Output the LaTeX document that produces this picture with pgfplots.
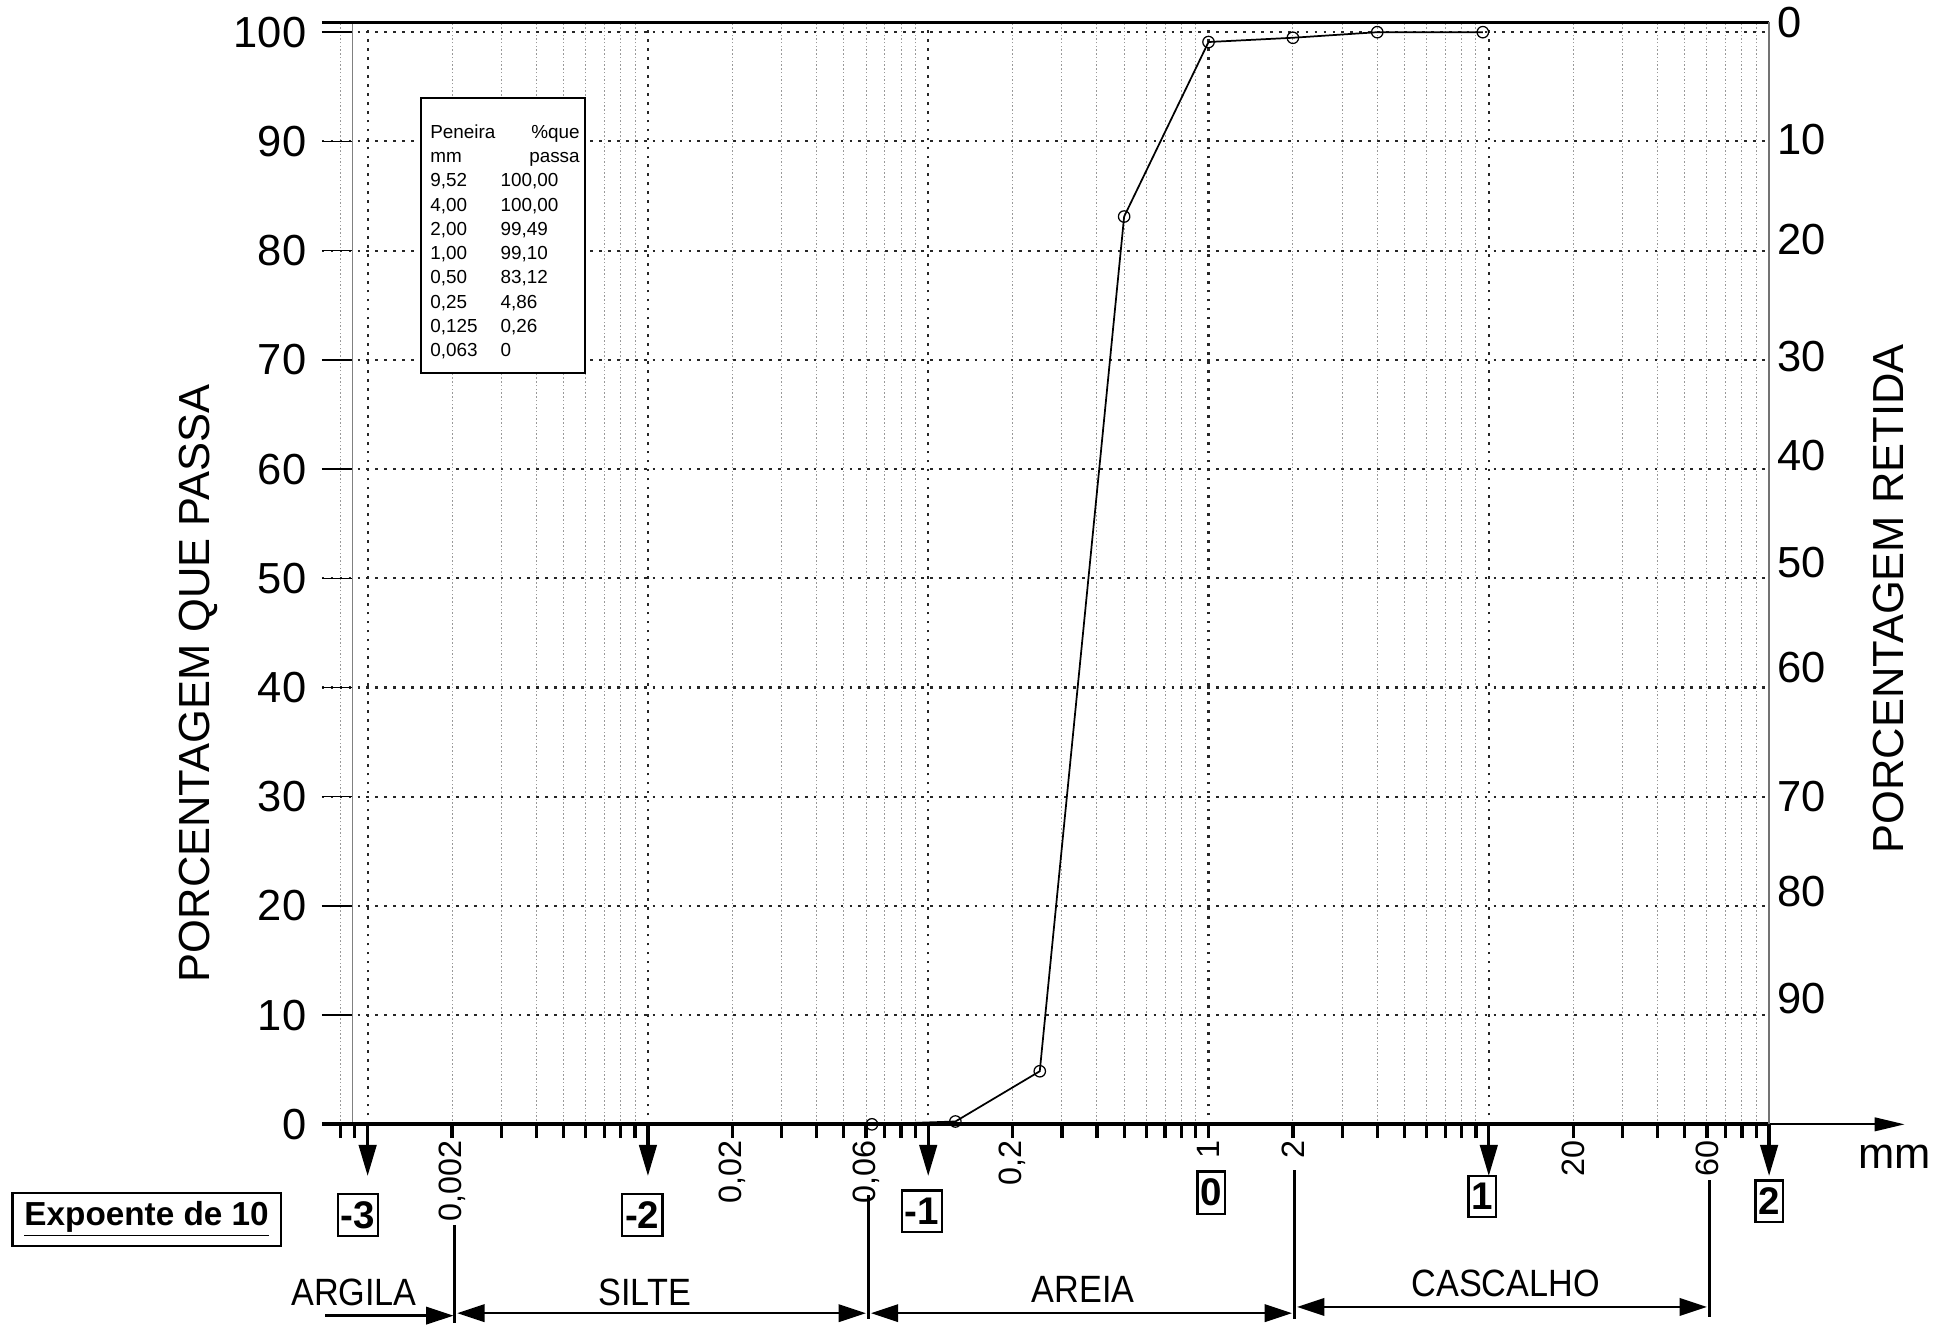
\documentclass[border=0pt]{standalone}
\usepackage{fontspec}
\setmainfont{Liberation Sans}
\newfontfamily\narrowfont[FakeStretch=0.9]{Liberation Sans}
\usepackage{pgfplots}
\pgfplotsset{compat=1.18}
\usetikzlibrary{arrows.meta}
\newcommand{\fsz}[1]{\fontsize{#1}{#1}\selectfont}
\tikzset{
  majorgrid/.style={black!85, line width=0.85pt, dash pattern=on 1.1pt off 2.5pt},
  minorgrid/.style={black!40, line width=0.4pt, dash pattern=on 0.6pt off 0.9pt},
}
\newcommand{\trow}[3]{%
  \node[anchor=base west, inner sep=0pt, font=\fsz{7.6}] at (346,{111.4+19.52*#1}) {#2};
  \node[anchor=base west, inner sep=0pt, font=\fsz{7.6}] at (402.5,{111.4+19.52*#1}) {#3};}
\begin{document}
\begin{tikzpicture}
\path[use as bounding box] (-129.5pt,-81pt) rectangle (654.5pt,452.5pt);
\begin{axis}[
  scale only axis, width=582.5pt, height=443.5pt,
  xmode=log, xmin=0.000686, xmax=100, ymin=0, ymax=100.9,
  clip=false,
  axis line style={draw=none},
  xtick={0.002,0.02,0.06,0.2,1,2,20,60},
  xticklabels={{0,002},{0,02},{0,06},{0,2},1,2,20,60},
  minor xtick={0.0008,0.0009,0.003,0.004,0.005,0.006,0.007,0.008,0.009,
    0.03,0.04,0.05,0.07,0.08,0.09,0.3,0.4,0.5,0.6,0.7,0.8,0.9,
    3,4,5,6,7,8,9,30,40,50,70,80,90},
  xtick pos=left, ytick pos=left,
  tick align=outside,
  major tick length=5.5pt, minor tick length=5.5pt,
  tick style={black, line width=1.3pt},
  ytick={0,10,20,30,40,50,60,70,80,90,100},
  yticklabels={0,10,20,30,40,50,60,70,80,90,100},
  ytick style={draw=none},
  xticklabel style={rotate=90, anchor=east, font=\fsz{13}, inner sep=1pt},
  yticklabel style={anchor=east, font=\fsz{17.5}, inner sep=0.5pt},
]
% minor vertical grid
\pgfplotsinvokeforeach{0.0008,0.002,0.003,0.004,0.005,0.006,0.007,0.008,0.009,
    0.02,0.03,0.04,0.05,0.06,0.07,0.08,0.09,0.2,0.3,0.4,0.5,0.6,0.7,0.8,0.9,
    2,3,4,5,6,7,8,9,20,30,40,50,60,70,80,90}{
  \draw[minorgrid] (axis cs:#1,0) -- (axis cs:#1,100.9);}
\draw[black!50, line width=0.4pt] (axis cs:0.00088,0) -- (axis cs:0.00088,100.9);
% major vertical grid
\pgfplotsinvokeforeach{0.001,0.01,0.1,1,10}{
  \draw[majorgrid] (axis cs:#1,0) -- (axis cs:#1,100.9);}
% horizontal grid
\pgfplotsinvokeforeach{10,20,30,40,50,60,70,80,90,100}{
  \draw[majorgrid] (axis cs:0.000686,#1) -- (axis cs:100,#1);
  \draw[line width=0.6pt] (axis cs:0.000686,#1) -- ++(12pt,0pt);}
% frame
\draw[line width=1.6pt] (rel axis cs:0,0) -- (rel axis cs:1,0);
\draw[line width=0.7pt, -{Triangle[length=12pt,width=5.5pt]}] (rel axis cs:1,0) -- ++(54.5pt,0pt);
\draw[line width=1.3pt] (rel axis cs:0,1) -- (rel axis cs:1,1);
\draw[black!55, line width=0.5pt] (rel axis cs:1,0) -- (rel axis cs:1,1);
% decade arrows
\pgfplotsinvokeforeach{0.001,0.01,0.1,10,100}{
  \draw[line width=1.3pt, -{Triangle[length=12.5pt,width=7pt]}] (axis cs:#1,0) -- ++(0pt,-20.8pt);}
% data
\addplot[black, line width=0.7pt, mark=o, mark size=2.3pt,
  mark options={fill=white, line width=0.5pt}] coordinates {
  (0.063,0) (0.125,0.26) (0.25,4.86) (0.5,83.12) (1.0,99.10)
  (2.0,99.49) (4.0,100.00) (9.52,100.00)};
\end{axis}
\begin{scope}[shift={(-129.5pt,452.5pt)}, x=0.5pt, y=-0.5pt, >={Triangle[length=11pt,width=7pt]}]
  \node[rotate=90, font=\fsz{17.5}] at (160,550) {PORCENTAGEM QUE PASSA};
  \node[rotate=90, font=\fsz{17.5}] at (1520,482) {PORCENTAGEM RETIDA};
  \foreach \v/\yy in {0/18,10/112,20/193,30/287,40/367,50/453,60/537,70/641,80/718,90/804}
    \node[anchor=west, font=\fsz{17.5}, inner sep=0pt] at (1430,\yy) {\v};
  \node[font=\fsz{17.5}] at (1525,931) {mm};
  % exponent boxes
  \foreach \t/\xx/\yy in {-3/288/978,-2/517/978,-1/742/975,0/975/960,1/1193/963,2/1424/967}
    \node[draw, line width=0.9pt, inner xsep=1.2pt, inner ysep=3pt, font=\bfseries\fsz{15.5}] at (\xx,\yy) {\t};
  \node[draw, line width=0.9pt, minimum width=108pt, minimum height=16.5pt,
    font=\bfseries\fsz{13.4}] at (118,981.5) {\underline{Expoente de 10}};
  % classification
  \draw[line width=1pt] (366,986) -- (366,1065);
  \draw[line width=1pt] (699,962) -- (699,1062);
  \draw[line width=1pt] (1042,942) -- (1042,1062);
  \draw[line width=1pt] (1376,950) -- (1376,1060);
  \draw[line width=1pt, ->] (262,1059) -- (365,1059);
  \draw[line width=1pt, <->] (368,1057) -- (697,1057);
  \draw[line width=1pt, <->] (701,1057) -- (1040,1057);
  \draw[line width=1pt, <->] (1044,1052) -- (1374,1052);
  \node[font=\narrowfont\fsz{15.3}] at (285,1040) {ARGILA};
  \node[font=\narrowfont\fsz{15.3}] at (519,1040) {SILTE};
  \node[font=\narrowfont\fsz{15.3}] at (872,1038) {AREIA};
  \node[font=\narrowfont\fsz{15.3}] at (1212,1033) {CASCALHO};
  % table
  \draw[fill=white, line width=0.7pt] (339,79) rectangle (471,300);
  \node[anchor=base west, inner sep=0pt, font=\fsz{7.6}] at (346,111.4) {Peneira};
  \node[anchor=base east, inner sep=0pt, font=\fsz{7.6}] at (467,111.4) {\%que};
  \node[anchor=base west, inner sep=0pt, font=\fsz{7.6}] at (346,130.9) {mm};
  \node[anchor=base east, inner sep=0pt, font=\fsz{7.6}] at (467,130.9) {passa};
  \trow{2}{9,52}{100,00}
  \trow{3}{4,00}{100,00}
  \trow{4}{2,00}{99,49}
  \trow{5}{1,00}{99,10}
  \trow{6}{0,50}{83,12}
  \trow{7}{0,25}{4,86}
  \trow{8}{0,125}{0,26}
  \trow{9}{0,063}{0}
\end{scope}
\end{tikzpicture}
\end{document}
